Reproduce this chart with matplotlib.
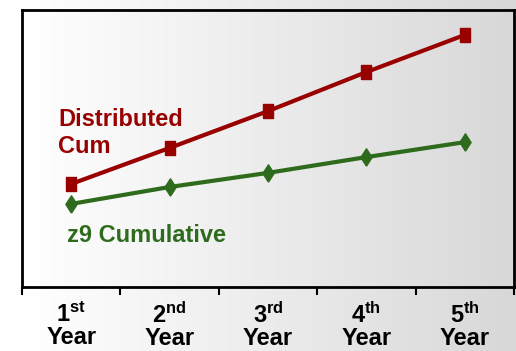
import numpy as np
import matplotlib
matplotlib.use("Agg")
import matplotlib.pyplot as plt

plt.rcParams['font.family'] = ['Liberation Sans', 'DejaVu Sans']
plt.rcParams['mathtext.fontset'] = 'custom'
plt.rcParams['mathtext.rm'] = 'Liberation Sans:bold'
plt.rcParams['mathtext.bf'] = 'Liberation Sans:bold'

# данные (условные единицы, ось Y без подписей)
years = ['1', '2', '3', '4', '5']
suffixes = ['st', 'nd', 'rd', 'th', 'th']
distributed_cum = [37.2, 50.2, 63.5, 77.6, 91.0]
z9_cumulative = [30.0, 36.1, 41.2, 46.9, 52.3]

red = '#990000'
green = '#2e6b1c'

fig = plt.figure(figsize=(5.16, 3.51), dpi=100)

# фон всей картинки: градиент слева направо
bg = fig.add_axes([0, 0, 1, 1], zorder=-10)
grad = np.linspace(0, 1, 256)
grad = np.clip((grad - 0.05) / 0.95, 0, 1)
bg.imshow(grad[np.newaxis, :], aspect='auto', cmap=matplotlib.colors.LinearSegmentedColormap.from_list('g', ['#ffffff', '#d8d8d8']),
          extent=[0, 1, 0, 1])
bg.set_axis_off()

ax = fig.add_axes([22 / 516, 1 - 287 / 351, 492 / 516, 277 / 351])
ax.set_facecolor('none')
x = np.arange(len(years))

sq = [(-1, -1.3), (1, -1.3), (1, 1.3), (-1, 1.3), (-1, -1.3)]
dm = [(0, -1.55), (1, 0), (0, 1.55), (-1, 0), (0, -1.55)]
ax.plot(x, distributed_cum, color=red, lw=3, marker=sq, ms=10, zorder=3)
ax.plot(x, z9_cumulative, color=green, lw=3, marker=dm, ms=12.5, zorder=3)

ax.text(-0.134, 64.5, 'Distributed\nCum', color=red, fontsize=17, fontweight='bold', va='top', ha='left')
ax.text(-0.043, 18.6, 'z9 Cumulative', color=green, fontsize=17, fontweight='bold', va='center', ha='left')

ax.set_xlim(-0.5, 4.5)
ax.set_ylim(0, 100)
ax.set_yticks([])
ax.set_xticks(x)
ax.set_xticklabels([r'$\mathbf{%s^{%s}}$' % (y, s) + '\nYear' for y, s in zip(years, suffixes)],
                   fontsize=17, fontweight='bold', linespacing=0.95)
ax.set_xticks(np.arange(-0.5, 5, 1), minor=True)
ax.tick_params(axis='x', which='major', length=0, pad=11)
ax.tick_params(axis='x', which='minor', length=6, width=1.5, direction='out')
for s in ax.spines.values():
    s.set_linewidth(2)

fig.savefig('out.png', dpi=100)
